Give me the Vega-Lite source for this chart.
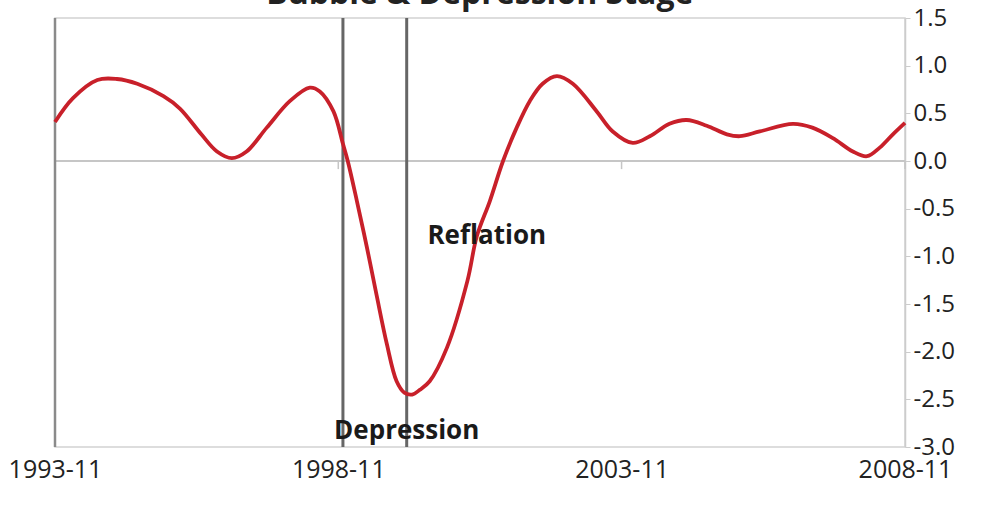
{
  "$schema": "https://vega.github.io/schema/vega-lite/v6.json",
  "autosize": {"type": "none"},
  "width": 850,
  "height": 429,
  "padding": {"left": 55, "top": 18, "right": 88, "bottom": 61},
  "background": "white",
  "config": {
    "view": {"stroke": "#d2d2d2", "strokeWidth": 1.5},
    "font": "Open Sans"
  },
  "datasets": {
    "series": [
      {"date": "1993-11-01T00:00:00", "value": 0.41},
      {"date": "1994-02-25T00:00:00", "value": 0.66},
      {"date": "1994-08-01T00:00:00", "value": 0.85},
      {"date": "1994-12-05T00:00:00", "value": 0.86},
      {"date": "1995-04-15T00:00:00", "value": 0.81},
      {"date": "1995-10-01T00:00:00", "value": 0.68},
      {"date": "1996-01-15T00:00:00", "value": 0.55},
      {"date": "1996-06-01T00:00:00", "value": 0.28},
      {"date": "1996-09-10T00:00:00", "value": 0.10},
      {"date": "1996-12-15T00:00:00", "value": 0.03},
      {"date": "1997-03-20T00:00:00", "value": 0.10},
      {"date": "1997-07-28T00:00:00", "value": 0.35},
      {"date": "1997-12-25T00:00:00", "value": 0.63},
      {"date": "1998-05-01T00:00:00", "value": 0.77},
      {"date": "1998-07-05T00:00:00", "value": 0.73},
      {"date": "1998-10-01T00:00:00", "value": 0.52},
      {"date": "1998-12-01T00:00:00", "value": 0.18},
      {"date": "1999-01-01T00:00:00", "value": 0.0},
      {"date": "1999-03-01T00:00:00", "value": -0.42},
      {"date": "1999-05-05T00:00:00", "value": -0.91},
      {"date": "1999-07-05T00:00:00", "value": -1.40},
      {"date": "1999-09-10T00:00:00", "value": -1.92},
      {"date": "1999-11-12T00:00:00", "value": -2.31},
      {"date": "2000-01-01T00:00:00", "value": -2.43},
      {"date": "2000-02-20T00:00:00", "value": -2.45},
      {"date": "2000-04-10T00:00:00", "value": -2.40},
      {"date": "2000-06-12T00:00:00", "value": -2.31},
      {"date": "2000-10-01T00:00:00", "value": -1.96},
      {"date": "2001-02-10T00:00:00", "value": -1.26},
      {"date": "2001-04-12T00:00:00", "value": -0.79},
      {"date": "2001-07-05T00:00:00", "value": -0.42},
      {"date": "2001-09-28T00:00:00", "value": 0.0},
      {"date": "2001-12-25T00:00:00", "value": 0.35},
      {"date": "2002-03-20T00:00:00", "value": 0.63},
      {"date": "2002-06-10T00:00:00", "value": 0.81},
      {"date": "2002-09-10T00:00:00", "value": 0.89},
      {"date": "2002-12-22T00:00:00", "value": 0.81},
      {"date": "2003-05-25T00:00:00", "value": 0.52},
      {"date": "2003-09-05T00:00:00", "value": 0.31},
      {"date": "2004-01-12T00:00:00", "value": 0.19},
      {"date": "2004-05-01T00:00:00", "value": 0.26},
      {"date": "2004-09-05T00:00:00", "value": 0.39},
      {"date": "2004-12-25T00:00:00", "value": 0.43},
      {"date": "2005-05-03T00:00:00", "value": 0.37},
      {"date": "2005-09-10T00:00:00", "value": 0.28},
      {"date": "2005-12-03T00:00:00", "value": 0.26},
      {"date": "2006-04-10T00:00:00", "value": 0.31},
      {"date": "2006-11-10T00:00:00", "value": 0.39},
      {"date": "2007-03-15T00:00:00", "value": 0.35},
      {"date": "2007-07-25T00:00:00", "value": 0.24},
      {"date": "2007-12-01T00:00:00", "value": 0.10},
      {"date": "2008-03-01T00:00:00", "value": 0.05},
      {"date": "2008-05-22T00:00:00", "value": 0.14},
      {"date": "2008-08-15T00:00:00", "value": 0.28},
      {"date": "2008-11-01T00:00:00", "value": 0.40}
    ],
    "stages": [
      {"date": "1998-12-01T00:00:00"},
      {"date": "2000-01-16T00:00:00"}
    ],
    "ticks": [
      {"date": "1998-11-01T00:00:00"},
      {"date": "2003-11-01T00:00:00"},
      {"date": "2008-11-01T00:00:00"}
    ],
    "notes": [
      {"date": "2001-06-15T00:00:00", "value": -0.79, "label": "Reflation"},
      {"date": "2000-01-16T00:00:00", "value": -2.83, "label": "Depression"}
    ],
    "heading": [
      {"date": "2001-05-01T00:00:00", "value": 1.647, "label": "Bubble & Depression Stage"}
    ]
  },
  "layer": [
    {
      "data": {"values": [{"value": 0}]},
      "mark": {"type": "rule", "color": "#c6c6c6", "strokeWidth": 2},
      "encoding": {
        "y": {"field": "value", "type": "quantitative", "title": null}
      }
    },
    {
      "data": {"name": "ticks"},
      "mark": {"type": "rule", "color": "#c6c6c6", "strokeWidth": 1.5},
      "encoding": {
        "x": {"field": "date", "type": "temporal", "title": null},
        "y": {"datum": 0},
        "y2": {"datum": -0.085}
      }
    },
    {
      "data": {"values": [{"date": "1993-11-01T00:00:00"}]},
      "mark": {"type": "rule", "color": "#8a8a8a", "strokeWidth": 2.5},
      "encoding": {
        "x": {"field": "date", "type": "temporal", "title": null}
      }
    },
    {
      "data": {"name": "stages"},
      "mark": {"type": "rule", "color": "#666666", "strokeWidth": 3},
      "encoding": {
        "x": {"field": "date", "type": "temporal", "title": null}
      }
    },
    {
      "data": {"name": "series"},
      "mark": {"type": "line", "color": "#c8202a", "strokeWidth": 3.8, "interpolate": "catmull-rom"},
      "encoding": {
        "x": {
          "field": "date",
          "type": "temporal",
          "title": null,
          "scale": {"domain": [{"year": 1993, "month": 11, "date": 1}, {"year": 2008, "month": 11, "date": 1}]},
          "axis": {
            "orient": "bottom",
            "values": [
              {"year": 1993, "month": 11, "date": 1},
              {"year": 1998, "month": 11, "date": 1},
              {"year": 2003, "month": 11, "date": 1},
              {"year": 2008, "month": 11, "date": 1}
            ],
            "format": "%Y-%m",
            "ticks": false,
            "domain": false,
            "grid": false,
            "labelFlush": false,
            "labelOverlap": false,
            "labelFontSize": 25,
            "labelColor": "#222222",
            "labelPadding": 10
          }
        },
        "y": {
          "field": "value",
          "type": "quantitative",
          "title": null,
          "scale": {"domain": [-3, 1.5], "nice": false, "zero": false},
          "axis": {
            "orient": "right",
            "values": [-3, -2.5, -2, -1.5, -1, -0.5, 0, 0.5, 1, 1.5],
            "labelExpr": "(datum.value < 0 ? '-' : '') + format(abs(datum.value), '.1f')",
            "grid": false,
            "domainColor": "#cccccc",
            "domainWidth": 1.5,
            "tickColor": "#cccccc",
            "tickSize": 5,
            "labelFontSize": 24,
            "labelColor": "#222222",
            "labelPadding": 3,
            "labelOverlap": false,
            "labelFlush": false
          }
        }
      }
    },
    {
      "data": {"name": "notes"},
      "mark": {"type": "text", "fontSize": 26, "fontWeight": "bold", "color": "#1a1a1a", "align": "center", "baseline": "middle"},
      "encoding": {
        "x": {"field": "date", "type": "temporal", "title": null},
        "y": {"field": "value", "type": "quantitative", "title": null},
        "text": {"field": "label"}
      }
    },
    {
      "data": {"name": "heading"},
      "mark": {"type": "text", "fontSize": 32, "fontWeight": "bold", "color": "#222222", "align": "center", "baseline": "alphabetic"},
      "encoding": {
        "x": {"field": "date", "type": "temporal", "title": null},
        "y": {"field": "value", "type": "quantitative", "title": null},
        "text": {"field": "label"}
      }
    }
  ]
}
